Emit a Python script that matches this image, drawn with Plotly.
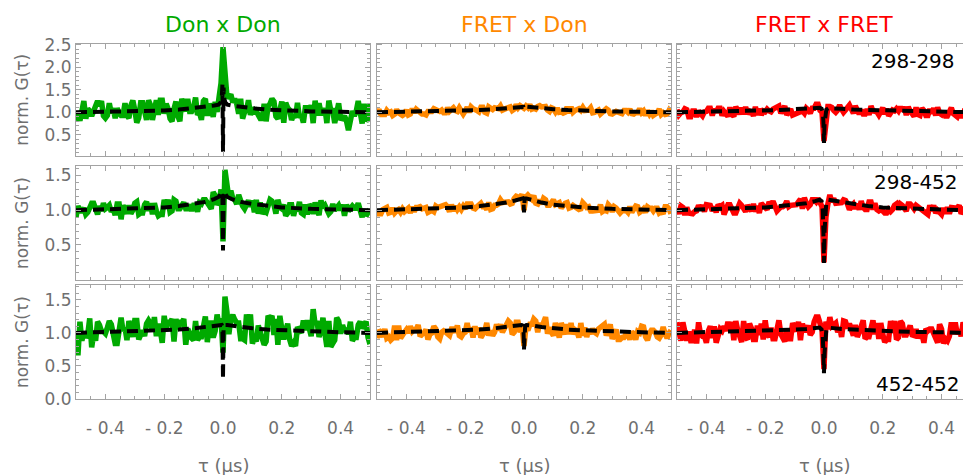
import numpy as np
import plotly.graph_objects as go

# ---- data -------------------------------------------------------------
# measured normalised correlations, rows = ratio pair, cols = channel pair;
# each histogram spans -0.5 .. 0.5 us in equal bins (151 bins, centre = 0)
TAU_SPAN = (-0.5, 0.5)

g_298_298_don_don = [
    0.81, 0.97, 0.81, 1.03, 1.25, 0.86, 1.08, 1.03, 0.92, 1.03, 1.19, 1.25, 1.14, 1.25, 0.92,
    0.87, 0.93, 1.20, 0.98, 1.09, 0.87, 1.09, 0.98, 0.93, 0.93, 1.20, 0.93, 0.87, 1.15, 1.26,
    1.05, 0.77, 0.88, 1.21, 1.21, 0.99, 0.83, 1.27, 1.16, 0.83, 1.10, 1.27, 0.94, 1.27, 1.27,
    0.97, 1.19, 1.08, 0.86, 0.80, 1.08, 1.24, 0.91, 0.80, 1.30, 1.19, 1.02, 1.30, 1.02, 1.02,
    1.11, 1.33, 0.94, 1.00, 0.83, 1.25, 1.30, 0.92, 1.19, 1.08, 0.90, 1.23, 1.01, 1.34, 1.65,
    2.45,
    1.95, 1.35, 1.34, 1.40, 1.22, 1.30, 1.19, 0.97, 1.30, 0.86, 1.00, 1.05, 1.27, 0.94, 1.11,
    0.97, 1.02, 0.91, 0.86, 0.86, 1.19, 0.80, 1.13, 1.19, 1.30, 1.24, 0.91, 0.86, 1.02, 1.24,
    0.77, 1.21, 1.10, 1.05, 0.83, 0.94, 0.88, 1.21, 0.88, 0.94, 0.77, 1.10, 1.10, 0.99, 1.16,
    0.76, 1.26, 0.93, 1.20, 0.98, 0.98, 1.09, 0.76, 1.26, 1.04, 1.04, 0.76, 1.04, 1.20, 0.87,
    0.86, 0.92, 0.81, 0.60, 0.86, 1.03, 0.92, 1.03, 1.25, 0.97, 0.75, 1.19, 0.81, 0.86, 1.19,
]
g_298_298_fret_don = [
    0.99, 1.06, 0.95, 0.95, 0.95, 1.04, 0.99, 1.01, 0.93, 0.96, 1.06, 0.99, 0.95, 0.93, 0.96,
    1.05, 0.94, 0.96, 1.08, 0.99, 1.07, 1.02, 0.97, 0.96, 0.96, 0.94, 1.02, 1.02, 1.02, 1.08,
    1.05, 1.02, 1.02, 1.05, 0.99, 0.99, 1.10, 1.02, 1.08, 1.10, 1.04, 1.02, 1.10, 1.00, 0.96,
    1.03, 1.11, 1.00, 1.12, 1.08, 1.04, 1.04, 1.01, 1.11, 1.11, 1.00, 0.98, 1.12, 1.09, 1.06,
    1.10, 1.10, 1.08, 1.14, 1.05, 1.07, 1.08, 1.08, 1.12, 1.04, 1.07, 1.17, 1.10, 1.15, 1.12,
    1.09,
    1.14, 1.10, 1.17, 1.07, 1.09, 1.07, 1.13, 1.15, 1.12, 1.13, 1.13, 1.05, 1.02, 1.10, 1.08,
    1.01, 1.09, 1.00, 1.01, 0.98, 1.00, 1.12, 0.98, 1.12, 1.00, 1.04, 1.06, 1.08, 1.04, 1.11,
    1.04, 1.05, 1.05, 1.10, 0.99, 1.00, 1.02, 1.05, 0.96, 1.00, 1.02, 1.08, 1.05, 0.97, 0.96,
    1.00, 1.02, 1.00, 0.99, 0.97, 1.04, 1.04, 1.00, 1.07, 0.97, 0.96, 0.99, 0.99, 1.08, 0.99,
    1.03, 0.93, 1.04, 0.96, 1.03, 0.93, 0.96, 0.99, 1.07, 0.95, 0.99, 0.95, 0.96, 1.04, 0.98,
]
g_298_298_fret_fret = [
    1.06, 0.94, 0.99, 1.01, 1.08, 1.06, 0.90, 0.90, 1.03, 1.03, 0.90, 1.03, 0.97, 0.92, 1.01,
    1.02, 1.09, 1.09, 0.93, 1.07, 1.00, 1.09, 1.09, 0.93, 1.02, 0.95, 0.91, 1.11, 0.95, 0.91,
    1.12, 1.05, 0.96, 1.10, 0.96, 1.12, 0.96, 1.03, 1.01, 0.92, 1.12, 0.94, 1.08, 0.94, 1.03,
    1.01, 1.07, 1.03, 1.01, 1.07, 1.10, 1.12, 1.14, 0.98, 1.05, 1.14, 0.94, 1.01, 1.07, 0.94,
    0.96, 0.98, 0.98, 1.03, 1.03, 0.98, 1.09, 1.05, 0.98, 1.09, 1.09, 1.18, 1.18, 1.04, 1.00,
    0.36,
    0.95, 1.13, 1.13, 1.11, 1.04, 1.00, 1.05, 1.16, 1.07, 1.00, 1.05, 1.09, 1.16, 1.07, 0.98,
    1.14, 1.03, 0.96, 1.05, 0.96, 0.96, 1.07, 0.94, 1.14, 1.03, 1.01, 1.01, 0.94, 1.05, 1.10,
    0.96, 1.08, 0.92, 0.99, 1.05, 1.03, 1.08, 1.03, 1.12, 1.03, 1.12, 0.94, 1.12, 1.03, 0.99,
    0.91, 1.11, 0.95, 0.93, 1.09, 1.04, 0.93, 0.93, 1.07, 0.98, 1.09, 0.93, 1.11, 0.98, 0.95,
    1.03, 0.92, 0.92, 1.06, 1.10, 0.97, 0.92, 0.90, 1.01, 0.92, 0.92, 1.08, 1.01, 0.99, 1.08,
]
g_298_452_don_don = [
    0.90, 1.06, 0.99, 0.99, 1.03, 0.94, 0.97, 1.06, 1.10, 1.10, 1.03, 0.94, 1.06, 0.99, 1.10,
    1.02, 1.04, 1.07, 0.98, 1.02, 0.93, 1.09, 1.09, 0.87, 1.07, 1.02, 0.95, 1.07, 0.95, 1.00,
    1.10, 1.12, 0.94, 0.96, 0.96, 1.08, 1.12, 0.99, 1.10, 0.94, 1.10, 0.99, 0.92, 0.94, 0.94,
    1.15, 1.04, 1.15, 0.97, 0.99, 1.15, 1.13, 1.02, 1.02, 1.08, 1.11, 1.02, 1.02, 1.08, 0.99,
    1.07, 1.07, 0.98, 1.11, 1.09, 1.15, 1.15, 1.11, 1.09, 1.02, 1.26, 1.21, 1.08, 1.12, 1.30,
    0.55,
    1.58, 1.30, 1.17, 1.28, 1.17, 1.15, 1.09, 1.22, 1.13, 1.06, 1.02, 1.07, 1.14, 1.05, 1.14,
    0.97, 1.15, 0.95, 1.11, 0.95, 0.99, 0.97, 1.11, 1.15, 1.13, 1.08, 0.95, 1.15, 1.04, 1.02,
    1.08, 0.92, 0.96, 1.08, 1.08, 0.92, 1.03, 0.99, 1.12, 0.96, 0.94, 1.08, 0.94, 1.08, 1.05,
    0.95, 1.11, 0.98, 0.93, 1.14, 1.04, 1.07, 1.02, 0.95, 0.98, 1.09, 1.00, 1.04, 1.07, 1.00,
    1.08, 0.92, 1.08, 0.99, 1.03, 1.06, 1.03, 1.03, 1.10, 0.99, 0.90, 1.01, 0.92, 0.97, 0.94,
]
g_298_452_fret_don = [
    0.95, 0.95, 0.95, 1.01, 1.02, 1.04, 0.96, 0.97, 1.03, 0.96, 0.99, 1.01, 0.97, 1.02, 0.98,
    1.02, 1.03, 0.96, 1.05, 0.98, 1.04, 1.04, 1.05, 1.02, 1.04, 1.04, 0.97, 0.99, 1.00, 0.98,
    1.06, 1.04, 1.06, 1.06, 1.07, 1.08, 1.05, 0.98, 1.08, 0.99, 1.06, 1.01, 1.05, 1.01, 1.06,
    1.02, 1.09, 1.10, 1.09, 1.03, 1.02, 1.05, 1.08, 1.10, 1.05, 1.05, 1.01, 1.11, 1.01, 1.02,
    1.07, 1.07, 1.09, 1.15, 1.11, 1.12, 1.13, 1.12, 1.09, 1.10, 1.17, 1.20, 1.19, 1.17, 1.23,
    1.00,
    1.19, 1.22, 1.19, 1.16, 1.21, 1.10, 1.09, 1.15, 1.09, 1.17, 1.15, 1.07, 1.07, 1.13, 1.15,
    1.08, 1.10, 1.11, 1.03, 1.07, 1.10, 1.11, 1.03, 1.04, 1.07, 1.05, 1.03, 1.01, 1.02, 1.11,
    1.08, 1.04, 1.05, 0.99, 0.99, 1.00, 0.99, 1.00, 1.08, 0.98, 1.00, 0.99, 1.08, 1.05, 0.98,
    1.05, 1.03, 1.00, 0.96, 0.99, 1.00, 1.00, 0.97, 1.05, 0.97, 1.02, 1.06, 1.05, 0.97, 0.99,
    1.02, 0.97, 1.05, 1.03, 1.03, 0.99, 1.03, 1.03, 0.96, 0.98, 0.95, 1.05, 1.05, 1.02, 0.95,
]
g_298_452_fret_fret = [
    1.01, 0.95, 1.06, 1.04, 0.93, 1.04, 0.96, 0.95, 0.95, 0.98, 0.99, 1.07, 1.02, 1.07, 0.98,
    1.08, 1.08, 1.07, 0.99, 1.05, 0.97, 1.08, 1.05, 1.07, 0.94, 1.00, 1.08, 1.08, 1.02, 0.96,
    0.96, 1.04, 1.10, 1.07, 1.01, 0.98, 1.07, 1.01, 0.99, 1.09, 0.98, 1.06, 0.96, 1.10, 1.06,
    1.04, 1.01, 1.12, 1.07, 1.13, 1.07, 0.99, 1.02, 1.05, 1.05, 1.07, 1.13, 1.05, 1.07, 1.07,
    1.07, 1.08, 1.12, 1.16, 1.02, 1.18, 1.10, 1.05, 1.08, 1.15, 1.15, 1.12, 1.17, 1.12, 1.05,
    0.25,
    0.90, 1.09, 1.22, 1.12, 1.17, 1.10, 1.10, 1.11, 1.11, 1.15, 1.14, 1.09, 1.01, 1.06, 1.09,
    1.02, 1.09, 1.01, 1.13, 1.04, 1.01, 1.01, 1.12, 1.12, 1.01, 1.10, 1.01, 0.99, 1.01, 0.99,
    0.96, 0.96, 1.01, 0.98, 1.01, 1.07, 1.09, 1.01, 1.09, 1.07, 1.04, 0.99, 1.09, 1.09, 1.06,
    1.02, 1.07, 1.05, 1.02, 0.99, 0.99, 0.97, 0.94, 1.07, 0.99, 1.07, 0.96, 1.00, 0.97, 0.94,
    1.03, 0.95, 1.04, 0.95, 1.04, 1.04, 1.03, 1.03, 1.07, 0.95, 0.99, 1.04, 0.98, 0.93, 0.98,
]
g_452_452_don_don = [
    1.02, 0.66, 1.17, 0.88, 1.02, 0.93, 0.98, 1.22, 0.78, 0.98, 0.88, 1.17, 1.12, 1.02, 1.02,
    0.99, 1.08, 1.18, 1.13, 0.94, 0.84, 0.84, 1.03, 1.23, 1.03, 1.08, 0.89, 1.18, 1.08, 0.94,
    1.19, 1.19, 0.90, 0.95, 1.04, 0.95, 1.14, 1.19, 1.14, 1.04, 1.24, 0.95, 1.14, 1.04, 0.85,
    1.26, 1.06, 1.16, 1.16, 1.21, 0.87, 1.21, 1.06, 1.16, 1.16, 1.21, 0.82, 1.06, 0.97, 0.92,
    0.89, 1.18, 0.89, 0.94, 0.94, 1.15, 1.25, 0.86, 1.15, 1.15, 0.93, 1.03, 1.28, 1.12, 1.22,
    0.70,
    1.55, 1.32, 0.98, 1.22, 1.27, 1.20, 1.15, 1.15, 0.91, 0.91, 0.89, 1.28, 1.08, 1.28, 0.84,
    0.92, 0.87, 1.11, 1.02, 0.92, 0.82, 0.87, 1.26, 1.21, 1.26, 0.97, 1.21, 0.82, 1.26, 1.06,
    0.90, 1.04, 1.14, 0.90, 0.80, 0.85, 0.80, 1.09, 1.04, 1.00, 1.19, 1.04, 1.19, 1.09, 0.95,
    1.36, 1.13, 1.18, 0.94, 1.03, 1.23, 0.99, 0.79, 1.18, 0.79, 0.84, 0.89, 1.23, 1.18, 0.99,
    1.12, 1.02, 1.07, 0.98, 1.17, 0.88, 0.93, 0.93, 1.12, 1.17, 1.07, 1.12, 1.17, 0.93, 0.83,
]
g_452_452_fret_don = [
    0.92, 1.04, 1.01, 0.94, 1.06, 0.92, 0.94, 0.89, 0.92, 1.11, 0.89, 1.11, 0.92, 0.99, 1.01,
    1.05, 1.00, 1.10, 1.02, 1.05, 1.05, 1.12, 0.95, 0.98, 1.00, 1.05, 0.90, 0.98, 1.00, 1.10,
    1.06, 0.94, 0.91, 1.01, 1.03, 1.01, 0.99, 0.96, 1.06, 1.06, 1.01, 1.11, 0.96, 0.94, 0.99,
    1.01, 1.15, 1.01, 1.08, 0.93, 1.10, 0.98, 1.08, 0.93, 0.98, 1.03, 1.15, 0.96, 1.03, 0.96,
    1.01, 1.13, 1.04, 1.13, 1.01, 1.08, 1.10, 1.18, 1.15, 0.98, 1.01, 1.16, 1.16, 1.01, 1.10,
    0.80,
    1.09, 1.04, 1.13, 1.13, 1.21, 1.18, 1.01, 1.15, 1.08, 1.18, 1.24, 0.99, 1.08, 1.01, 0.96,
    1.15, 0.98, 0.93, 1.15, 1.08, 0.98, 1.13, 0.98, 1.15, 0.98, 1.05, 1.03, 0.93, 1.15, 0.96,
    1.08, 0.94, 1.03, 0.99, 1.06, 1.01, 0.99, 1.06, 1.08, 1.11, 1.13, 0.96, 1.03, 1.13, 0.91,
    0.98, 1.05, 0.90, 0.90, 0.93, 0.93, 0.98, 0.98, 0.90, 1.02, 0.98, 0.90, 1.02, 1.00, 1.10,
    1.09, 0.94, 0.89, 0.99, 1.04, 1.04, 1.01, 0.94, 0.92, 0.97, 1.09, 0.99, 0.92, 0.99, 1.04,
]
g_452_452_fret_fret = [
    1.16, 1.02, 0.88, 1.16, 0.98, 0.88, 1.02, 0.88, 0.88, 1.05, 0.84, 1.16, 0.98, 0.95, 0.95,
    0.85, 1.03, 1.10, 0.92, 1.10, 0.85, 0.96, 1.06, 1.03, 1.10, 1.03, 1.17, 1.03, 1.17, 0.89,
    1.18, 1.04, 0.97, 0.86, 1.18, 0.93, 0.90, 1.14, 1.07, 0.90, 0.90, 1.11, 0.97, 1.14, 0.90,
    1.19, 0.98, 0.94, 1.08, 0.91, 0.91, 1.12, 1.19, 0.98, 0.91, 0.87, 1.05, 0.91, 0.91, 1.15,
    1.07, 1.03, 1.17, 0.89, 1.14, 1.04, 1.04, 1.11, 0.97, 1.01, 1.17, 1.24, 1.24, 1.13, 1.05,
    0.45,
    1.17, 1.06, 1.24, 1.10, 1.13, 1.15, 1.01, 1.08, 0.94, 1.18, 1.17, 1.07, 1.14, 1.07, 0.96,
    1.12, 0.94, 1.01, 1.15, 1.19, 0.91, 0.94, 0.94, 1.12, 1.19, 0.98, 1.15, 0.91, 1.15, 0.98,
    0.86, 0.90, 0.90, 1.18, 1.00, 1.18, 0.90, 0.93, 1.18, 1.14, 0.97, 0.97, 1.07, 1.11, 0.97,
    0.96, 1.06, 0.92, 0.99, 0.99, 0.85, 1.06, 1.03, 1.06, 1.06, 0.99, 0.96, 0.85, 1.13, 1.06,
    0.84, 0.91, 0.88, 0.95, 1.16, 0.98, 1.16, 0.98, 1.05, 0.95, 1.16, 1.02, 0.91, 0.91, 0.98,
]

# model curves evaluated on a grid that is fine around zero lag
tau_fit = [-0.5, -0.4, -0.3, -0.2, -0.15, -0.1, -0.06, -0.03, -0.015, -0.008,
           -0.004, -0.002, 0.0, 0.002, 0.004, 0.008, 0.015, 0.03, 0.06, 0.1,
           0.15, 0.2, 0.3, 0.4, 0.5]
fit_298_298_don_don = [1.00, 1.01, 1.02, 1.04, 1.06, 1.09, 1.12, 1.15, 1.17, 1.22,
                       1.35, 1.62, 0.12, 1.55, 1.32, 1.22, 1.17, 1.15, 1.12, 1.09,
                       1.06, 1.04, 1.02, 1.01, 1.00]
fit_298_298_fret_don = [1.00, 1.01, 1.02, 1.035, 1.05, 1.07, 1.09, 1.11, 1.12, 1.125,
                        1.125, 1.12, 1.08, 1.12, 1.125, 1.125, 1.12, 1.11, 1.09, 1.07,
                        1.05, 1.035, 1.02, 1.01, 1.00]
fit_298_298_fret_fret = [1.00, 1.01, 1.02, 1.04, 1.05, 1.07, 1.09, 1.10, 1.10, 1.08,
                         1.00, 0.80, 0.32, 0.75, 0.98, 1.06, 1.09, 1.09, 1.08, 1.06,
                         1.05, 1.035, 1.02, 1.01, 1.00]
fit_298_452_don_don = [1.00, 1.01, 1.02, 1.04, 1.06, 1.09, 1.12, 1.16, 1.19, 1.23,
                       1.27, 1.20, 0.42, 1.20, 1.27, 1.23, 1.19, 1.16, 1.12, 1.09,
                       1.06, 1.04, 1.02, 1.01, 1.00]
fit_298_452_fret_don = [1.00, 1.01, 1.02, 1.04, 1.06, 1.08, 1.11, 1.14, 1.16, 1.17,
                        1.17, 1.15, 0.97, 1.15, 1.17, 1.17, 1.16, 1.14, 1.11, 1.08,
                        1.06, 1.04, 1.02, 1.01, 1.00]
fit_298_452_fret_fret = [1.00, 1.01, 1.02, 1.04, 1.06, 1.08, 1.10, 1.13, 1.15, 1.13,
                         1.00, 0.70, 0.24, 0.70, 1.00, 1.12, 1.15, 1.14, 1.11, 1.08,
                         1.06, 1.04, 1.02, 1.01, 1.00]
fit_452_452_don_don = [1.00, 1.01, 1.02, 1.04, 1.05, 1.07, 1.09, 1.11, 1.12, 1.12,
                       1.12, 1.10, 0.30, 1.08, 1.11, 1.12, 1.12, 1.11, 1.09, 1.07,
                       1.05, 1.04, 1.02, 1.01, 1.00]
fit_452_452_fret_don = [1.00, 1.01, 1.02, 1.04, 1.05, 1.07, 1.09, 1.11, 1.12, 1.12,
                        1.11, 1.08, 0.75, 1.08, 1.11, 1.12, 1.12, 1.11, 1.09, 1.07,
                        1.05, 1.04, 1.02, 1.01, 1.00]
fit_452_452_fret_fret = [1.00, 1.01, 1.015, 1.03, 1.04, 1.05, 1.06, 1.07, 1.08, 1.05,
                         0.95, 0.70, 0.39, 0.70, 0.95, 1.05, 1.08, 1.07, 1.06, 1.05,
                         1.04, 1.03, 1.015, 1.01, 1.00]

column_titles = ["Don x Don", "FRET x Don", "FRET x FRET"]
column_colors = ["#00aa00", "#ff8800", "#ff0000"]
row_labels = ["298-298", "298-452", "452-452"]
x_tickvals = [-0.4, -0.2, 0.0, 0.2, 0.4]
x_ticktext = ["- 0.4", "- 0.2", "0.0", "0.2", "0.4"]
y_tickvals = [[0.5, 1.0, 1.5, 2.0, 2.5], [0.5, 1.0, 1.5], [0.0, 0.5, 1.0, 1.5]]

data_grid = [
    [g_298_298_don_don, g_298_298_fret_don, g_298_298_fret_fret],
    [g_298_452_don_don, g_298_452_fret_don, g_298_452_fret_fret],
    [g_452_452_don_don, g_452_452_fret_don, g_452_452_fret_fret],
]
fit_grid = [
    [fit_298_298_don_don, fit_298_298_fret_don, fit_298_298_fret_fret],
    [fit_298_452_don_don, fit_298_452_fret_don, fit_298_452_fret_fret],
    [fit_452_452_don_don, fit_452_452_fret_don, fit_452_452_fret_fret],
]


def bin_centres(series):
    """Equally spaced lag values for a histogram spanning TAU_SPAN."""
    return np.linspace(TAU_SPAN[0], TAU_SPAN[1], len(series))


# ---- layout geometry (pixels) ----------------------------------------
W, H = 963, 475
col_px = [(76, 370), (377, 671), (677, 963)]
row_px = [(36, 153), (164, 282), (288, 406)]
y_ranges = [[0.03, 2.53], [0.0, 1.63], [0.0, 1.72]]
x_ranges = [[-0.5, 0.5], [-0.5, 0.5], [-0.5, 0.473]]

FONT = "DejaVu Sans"
FRAME = "#a3a3a3"
LABEL = "#6f6f6f"

fig = go.Figure()
layout = dict(
    width=W, height=H,
    margin=dict(l=0, r=0, t=0, b=0),
    paper_bgcolor="white", plot_bgcolor="white",
    showlegend=False,
    font=dict(family=FONT, size=17, color=LABEL),
)
annotations = []

for r in range(3):
    for c in range(3):
        k = r * 3 + c + 1
        xa = "x" if k == 1 else f"x{k}"
        ya = "y" if k == 1 else f"y{k}"
        series = data_grid[r][c]
        fig.add_trace(go.Scatter(
            x=bin_centres(series), y=series, mode="lines",
            line=dict(color=column_colors[c], width=5.5),
            xaxis=xa, yaxis=ya, hoverinfo="skip",
        ))
        fig.add_trace(go.Scatter(
            x=tau_fit, y=fit_grid[r][c], mode="lines",
            line=dict(color="black", width=4, dash="11px,6px"),
            xaxis=xa, yaxis=ya, hoverinfo="skip",
        ))
        x0, x1 = col_px[c]
        y0, y1 = row_px[r]
        layout[f"xaxis{k}"] = dict(
            domain=[x0 / W, x1 / W], anchor=ya, range=x_ranges[c],
            showgrid=False, zeroline=False,
            showline=True, linecolor=FRAME, linewidth=1, mirror="allticks",
            ticks="inside", ticklen=5, tickcolor=FRAME,
            tickvals=x_tickvals, ticktext=x_ticktext,
            showticklabels=(r == 2), ticklabelstandoff=14,
            tickfont=dict(family=FONT, size=17, color=LABEL),
            minor=dict(ticks="inside", ticklen=3, tickcolor=FRAME, dtick=0.05,
                       tick0=0, showgrid=False),
        )
        layout[f"yaxis{k}"] = dict(
            domain=[1 - y1 / H, 1 - y0 / H], anchor=xa, range=y_ranges[r],
            showgrid=False, zeroline=False,
            showline=True, linecolor=FRAME, linewidth=1,
            mirror="allticks" if c < 2 else False,
            ticks="inside", ticklen=5, tickcolor=FRAME,
            tickvals=y_tickvals[r], tickformat=".1f",
            showticklabels=(c == 0),
            tickfont=dict(family=FONT, size=17, color=LABEL),
            minor=dict(ticks="inside", ticklen=3, tickcolor=FRAME, dtick=0.1,
                       tick0=0, showgrid=False),
        )

# column headings and x-axis titles
for c in range(3):
    x0, x1 = col_px[c] if c < 2 else (677, 971)
    annotations.append(dict(
        text=column_titles[c], x=(x0 + x1) / 2 / W, y=1 - 16 / H,
        xref="paper", yref="paper", xanchor="center", yanchor="middle",
        showarrow=False, font=dict(family=FONT, size=22, color=column_colors[c]),
    ))
    annotations.append(dict(
        text="τ (μs)", x=(x0 + x1) / 2 / W, y=1 - 475 / H,
        xref="paper", yref="paper", xanchor="center", yanchor="middle",
        showarrow=False, font=dict(family=FONT, size=18, color=LABEL),
    ))

# y-axis titles
for r in range(3):
    y0, y1 = row_px[r]
    annotations.append(dict(
        text="norm. G(τ)", x=22 / W, y=1 - (y0 + y1) / 2 / H,
        xref="paper", yref="paper", xanchor="center", yanchor="middle",
        textangle=-90, showarrow=False,
        font=dict(family=FONT, size=17, color=LABEL),
    ))

# ratio labels inside the right-hand column
label_pos = [(957, 54), (960, 180), (962, 391)]
for r in range(3):
    px, py = label_pos[r]
    annotations.append(dict(
        text=row_labels[r], x=px / W, y=1 - py / H,
        xref="paper", yref="paper", xanchor="right", yanchor="middle",
        showarrow=False, font=dict(family=FONT, size=20, color="black"),
    ))

layout["annotations"] = annotations
fig.update_layout(**layout)
fig.write_html("out.html")
